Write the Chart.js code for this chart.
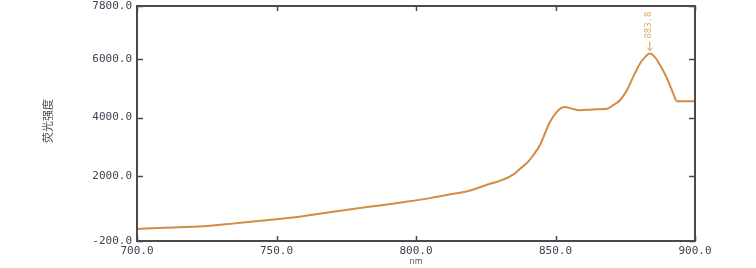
<!DOCTYPE html>
<html>
<head>
<meta charset="utf-8">
<script src="https://cdn.jsdelivr.net/npm/chart.js@4"></script>
<style>
  html, body { margin: 0; padding: 0; background: #fff; }
  #wrap { width: 756px; height: 268px; }
</style>
</head>
<body>
<div id="wrap"><canvas id="spectrum"></canvas></div>
<script>
// Emission spectrum data
const wavelengths = [700, 710, 723.7, 735, 750, 760, 769, 778, 787, 796, 805, 812, 819.4, 825, 831.2, 835, 837.3, 840, 842, 844.4, 846.2, 848, 850.4, 852, 853.4, 855, 858.8, 863.4, 868.5, 870.6, 873.1, 875.6, 877.8, 880.3, 882.1, 883.8, 885.6, 887.5, 890, 892.2, 893.5, 896, 900]
const intensities = [210, 250, 300, 400, 540, 650, 780, 900, 1010, 1130, 1260, 1380, 1520, 1700, 1890, 2070, 2260, 2480, 2720, 3060, 3460, 3850, 4190, 4320, 4360, 4330, 4250, 4280, 4300, 4420, 4590, 4930, 5380, 5840, 6060, 6180, 6060, 5780, 5330, 4820, 4560, 4560, 4560]
const xTicks = [700, 750, 800, 850, 900]
const yTicks = [-200, 2000, 4000, 6000, 7800]
const peakWavelength = [883.8]
const peakIntensity = [6180]

const lineColor = '#d38b45'
const axisColor = '#4a4a4a'
const labelColor = '#3c4250'

// box + inward tick marks
const frame = {
  id: 'frame',
  afterDraw(chart) {
    const { ctx, chartArea: a, scales: { x, y } } = chart
    ctx.save()
    ctx.strokeStyle = axisColor
    ctx.lineWidth = 2
    ctx.strokeRect(a.left, a.top, a.right - a.left, a.bottom - a.top)
    ctx.lineWidth = 1.5
    ctx.beginPath()
    xTicks.forEach(v => {
      const px = Math.round(x.getPixelForValue(v)) + 0.5
      ctx.moveTo(px, a.bottom); ctx.lineTo(px, a.bottom - 5)
      ctx.moveTo(px, a.top); ctx.lineTo(px, a.top + 5)
    })
    yTicks.forEach(v => {
      const py = Math.round(y.getPixelForValue(v)) + 0.5
      ctx.moveTo(a.left, py); ctx.lineTo(a.left + 6, py)
      ctx.moveTo(a.right, py); ctx.lineTo(a.right - 6, py)
    })
    ctx.stroke()

    // peak marker
    const px = x.getPixelForValue(peakWavelength[0])
    const py = y.getPixelForValue(peakIntensity[0])
    ctx.strokeStyle = '#d9995a'
    ctx.lineWidth = 1
    ctx.beginPath()
    ctx.moveTo(px, py - 12); ctx.lineTo(px, py - 3)
    ctx.moveTo(px - 2.5, py - 6); ctx.lineTo(px, py - 3); ctx.lineTo(px + 2.5, py - 6)
    ctx.stroke()
    ctx.translate(px - 1, py - 15)
    ctx.rotate(-Math.PI / 2)
    ctx.fillStyle = '#e2ad78'
    ctx.font = '9px "DejaVu Sans Mono"'
    ctx.textAlign = 'left'
    ctx.textBaseline = 'middle'
    ctx.fillText(peakWavelength[0].toFixed(1), 0, 0)
    ctx.restore()

    // y-axis title
    ctx.save()
    ctx.translate(48, 121)
    ctx.rotate(-Math.PI / 2)
    ctx.fillStyle = '#4a4a4a'
    ctx.font = '11px "Noto Sans CJK SC"'
    ctx.textAlign = 'center'
    ctx.textBaseline = 'middle'
    ctx.fillText('荧光强度', 0, 0)
    ctx.restore()
  }
}

const ctx = document.getElementById('spectrum').getContext('2d')
const chart = new Chart(ctx, {
  type: 'line',
  data: {
    datasets: [{
      data: wavelengths.map((w, i) => ({ x: w, y: intensities[i] })),
      borderColor: lineColor,
      borderWidth: 2,
      pointRadius: 0,
      cubicInterpolationMode: 'monotone',
      fill: false
    }]
  },
  options: {
    responsive: true,
    maintainAspectRatio: false,
    animation: false,
    layout: { padding: { left: 0, right: 61, top: 6, bottom: 0 } },
    plugins: { legend: { display: false }, tooltip: { enabled: false } },
    scales: {
      x: {
        type: 'linear',
        min: 700,
        max: 900,
        afterBuildTicks: s => { s.ticks = xTicks.map(v => ({ value: v })) },
        afterFit: s => { s.height = 27; s.paddingLeft = 0; s.paddingRight = 0 },
        grid: { display: false, drawTicks: false },
        border: { display: false },
        ticks: {
          padding: 4,
          color: labelColor,
          font: { family: 'DejaVu Sans Mono', size: 11 },
          maxRotation: 0,
          callback: v => v.toFixed(1)
        },
        title: {
          display: true,
          text: 'nm',
          color: '#555',
          font: { family: 'DejaVu Sans', size: 8 },
          padding: { top: 0, bottom: 1 }
        }
      },
      y: {
        min: -200,
        max: 7800,
        afterBuildTicks: s => { s.ticks = yTicks.map(v => ({ value: v })) },
        afterFit: s => { s.width = 137; s.paddingTop = 0; s.paddingBottom = 0 },
        grid: { display: false, drawTicks: false },
        border: { display: false },
        ticks: {
          padding: 5,
          color: labelColor,
          font: { family: 'DejaVu Sans Mono', size: 11 },
          callback: v => v.toFixed(1)
        }
      }
    }
  },
  plugins: [frame]
})
</script>
</body>
</html>
